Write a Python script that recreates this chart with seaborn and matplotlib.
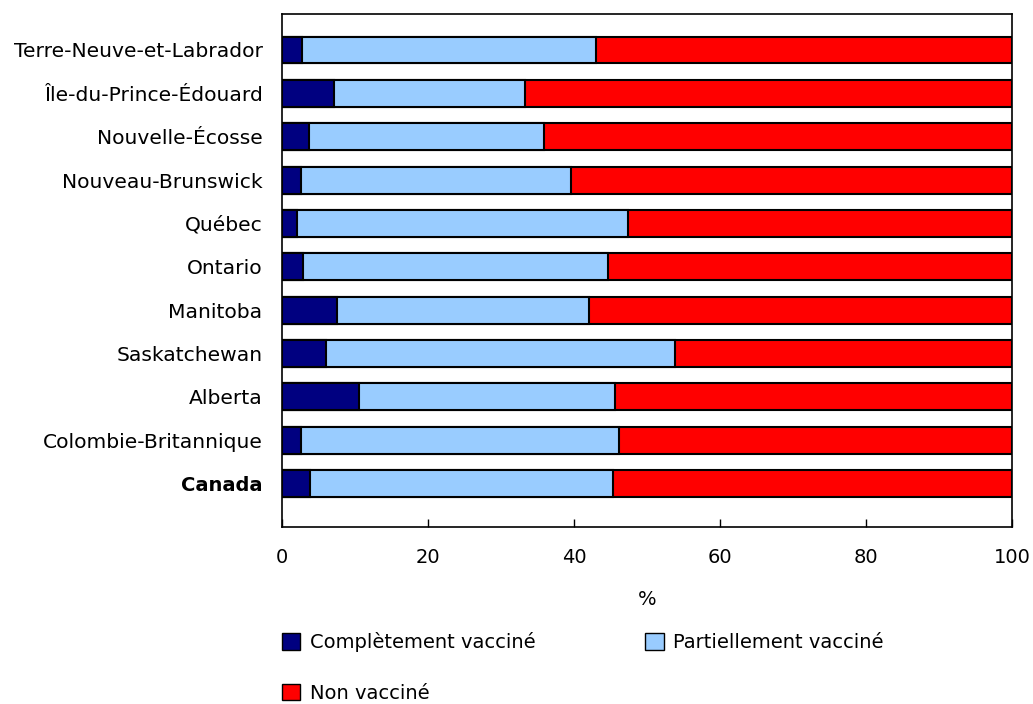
import pandas as pd
import seaborn as sns
import matplotlib.pyplot as plt
from matplotlib.patches import Patch

provinces = ["Terre-Neuve-et-Labrador", "Île-du-Prince-Édouard", "Nouvelle-Écosse",
             "Nouveau-Brunswick", "Québec", "Ontario", "Manitoba", "Saskatchewan",
             "Alberta", "Colombie-Britannique", "Canada"]
complet = [2.7, 7.1, 3.7, 2.6, 2.1, 2.9, 7.6, 6.0, 10.5, 2.6, 3.8]
partiel = [40.3, 26.2, 32.2, 37.0, 45.3, 41.8, 34.5, 47.8, 35.1, 43.5, 41.6]
non_vacc = [57.0, 66.7, 64.1, 60.4, 52.6, 55.3, 57.9, 46.2, 54.4, 53.9, 54.6]

labels = ["Complètement vacciné", "Partiellement vacciné", "Non vacciné"]
colors = ["#000080", "#99CCFF", "#FF0000"]

df = pd.DataFrame({"prov": provinces, "c": complet, "p": partiel, "n": non_vacc})
df["cp"] = df["c"] + df["p"]
df["tot"] = df["cp"] + df["n"]

sns.set_style("white")
plt.rcParams["font.family"] = ["DejaVu Sans"]
plt.rcParams["text.color"] = "black"
plt.rcParams["xtick.color"] = "black"
plt.rcParams["ytick.color"] = "black"
plt.rcParams["axes.labelcolor"] = "black"

fs = 14

fig = plt.figure(figsize=(10.33, 7.04), dpi=100)
ax = fig.add_axes([282 / 1033, 1 - 527 / 704, 730 / 1033, 513 / 704])

# stacked bars: draw cumulative totals back to front
for col, colr in [("tot", colors[2]), ("cp", colors[1]), ("c", colors[0])]:
    sns.barplot(data=df, x=col, y="prov", orient="h", color=colr, width=0.62,
                edgecolor="black", linewidth=1.5, ax=ax, saturation=1)

ax.set_xlim(0, 100)
ax.set_ylim(11.0, -0.83)
ax.set_xticks([0, 20, 40, 60, 80, 100])
ax.tick_params(axis="x", direction="in", length=6, width=1,
               labelsize=fs, pad=15, bottom=True)
ax.tick_params(axis="y", length=0, labelsize=14.6, pad=14)
ax.set_xlabel("%", fontsize=fs, labelpad=17)
ax.set_ylabel("")
for lbl in ax.get_yticklabels():
    if lbl.get_text() == "Canada":
        lbl.set_fontweight("bold")
        lbl.set_fontsize(14)
for s in ax.spines.values():
    s.set_visible(True)
    s.set_color("black")
    s.set_linewidth(1.2)

# legend fills column-wise: order so row 1 = complet, partiel; row 2 = non
handles = [Patch(facecolor=c, edgecolor="black", linewidth=1) for c in colors]
order = [0, 2, 1]
fig.legend([handles[i] for i in order], [labels[i] for i in order], ncol=2,
           frameon=False, fontsize=fs,
           loc="upper left", bbox_to_anchor=(264 / 1033, 1 - 615 / 704),
           handlelength=0.95, handleheight=0.95, handletextpad=0.5,
           columnspacing=5.65, labelspacing=1.6)

fig.savefig("out.png", dpi=100)
